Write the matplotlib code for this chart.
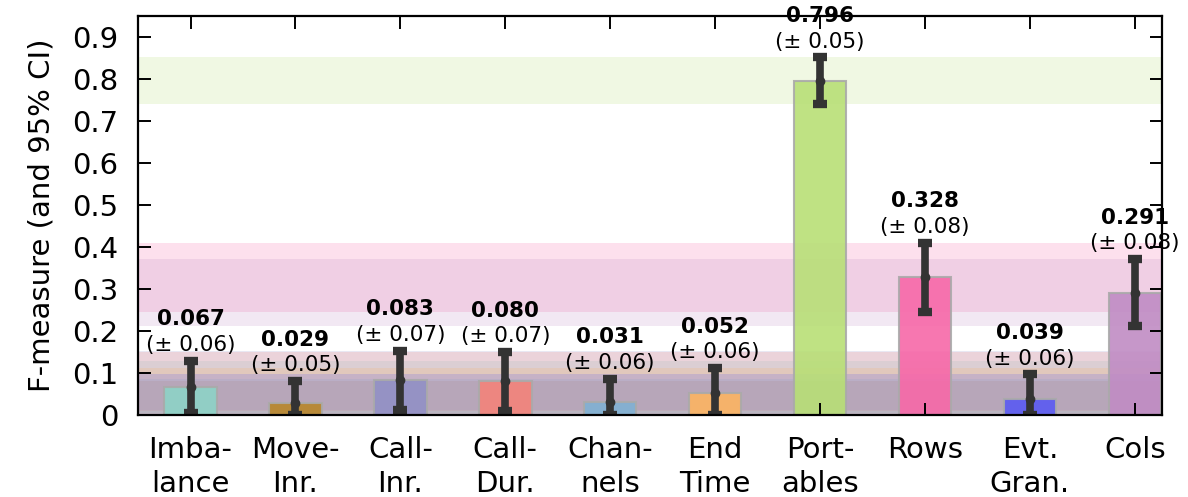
import matplotlib
matplotlib.use("Agg")
import matplotlib.pyplot as plt
from matplotlib.ticker import FuncFormatter

# features and their F-measure with 95% CI half-widths
features = ["Imba-\nlance", "Move-\nInr.", "Call-\nInr.", "Call-\nDur.", "Chan-\nnels",
            "End\nTime", "Port-\nables", "Rows", "Evt.\nGran.", "Cols"]
fmeasure = [0.067, 0.029, 0.083, 0.080, 0.031, 0.052, 0.796, 0.328, 0.039, 0.291]
ci_half = [0.062, 0.052, 0.070, 0.070, 0.055, 0.060, 0.055, 0.082, 0.058, 0.080]
ci_text = ["0.06", "0.05", "0.07", "0.07", "0.06", "0.06", "0.05", "0.08", "0.06", "0.08"]
colors = ["#8dd3c7", "#b8862a", "#9290c6", "#f4837a", "#80b1d3",
          "#fdb462", "#b8df76", "#f768a8", "#5a5af2", "#c08cc4"]

fig = plt.figure(figsize=(11.88, 4.97), dpi=100)
ax = fig.add_axes([0.1162, 0.165, 0.8620, 0.803])

x = list(range(len(features)))
lower = [max(0.0, v - e) for v, e in zip(fmeasure, ci_half)]
upper = [v + e for v, e in zip(fmeasure, ci_half)]

# CI bands across the whole plot
for lo, hi, c in zip(lower, upper, colors):
    ax.axhspan(lo, hi, color=c, alpha=0.2, lw=0, zorder=0)

ax.bar(x, fmeasure, width=0.5, color=colors, alpha=0.9, edgecolor="#aaaaaa",
       linewidth=1.5, zorder=1)

err_lo = [v - lo for v, lo in zip(fmeasure, lower)]
err_hi = [hi - v for v, hi in zip(fmeasure, upper)]
ax.errorbar(x, fmeasure, yerr=[err_lo, err_hi], fmt="o", color="#333333", ms=6,
            elinewidth=5.5, capsize=5, capthick=6, zorder=2)

for xi, v, hi, t in zip(x, fmeasure, upper, ci_text):
    ax.annotate("(\u00b1 %s)" % t, (xi, hi), xytext=(0, 7), textcoords="offset points",
                ha="center", va="baseline", fontsize=15.5, zorder=2.4, annotation_clip=False)
    ax.annotate("%.3f" % v, (xi, hi), xytext=(0, 25.5), textcoords="offset points",
                ha="center", va="baseline", fontsize=15.5, fontweight="bold", zorder=2.4,
                annotation_clip=False)

ax.set_xlim(-0.5, 9.26)
ax.set_ylim(0, 0.95)
ax.set_yticks([i / 10 for i in range(10)])
ax.yaxis.set_major_formatter(FuncFormatter(lambda v, p: "%g" % round(v, 1)))
ax.set_xticks(x)
ax.set_xticklabels(features, linespacing=1.3)
ax.tick_params(axis="both", direction="in", length=9, width=1.4, labelsize=21,
               top=True, right=True)
ax.tick_params(axis="y", pad=14)
ax.tick_params(axis="x", pad=15)
for s in ax.spines.values():
    s.set_linewidth(1.6)
    s.set_zorder(3)
ax.set_ylabel("F-measure (and 95% CI)", fontsize=21, labelpad=12)

fig.savefig("out.png", dpi=100)
